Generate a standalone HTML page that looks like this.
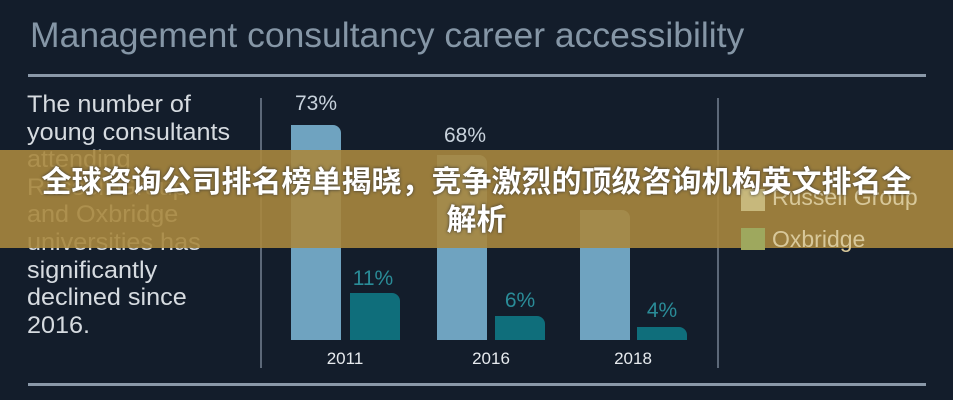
<!DOCTYPE html>
<html><head><meta charset="utf-8"><style>
body{margin:0;width:953px;height:400px;overflow:hidden;background:#131d2b;position:relative;font-family:"Liberation Sans",sans-serif}
.a{position:absolute}
.t{left:30px;top:15px;font-size:35.5px;color:#8596a6;font-weight:300;white-space:nowrap}
.hl{height:3px;background:#8a98a8;left:28px;width:898px}
.vl{width:2px;background:#5c6878;top:98px;height:270px}
.p{left:27px;top:91px;font-size:24px;line-height:27.6px;color:#d6dbe0;white-space:nowrap;transform:scaleX(1.05);transform-origin:left}
.lb{background:#6fa3c0;border-radius:0 8px 0 0}
.db{background:#0f6e7b;border-radius:0 8px 0 0}
.v{font-size:21px;color:#c8d2dc;transform:translateX(-50%)}
.dv{color:#2a8c98}
.y{font-size:17px;color:#e6eaee;transform:translateX(-50%);top:349px}
.ban{left:0;top:150px;width:953px;height:98px;background:rgba(168,135,62,0.9)}
.bt{left:0;width:953px;text-align:center;top:164px;font-family:"Liberation Sans","Noto Sans CJK SC",sans-serif;font-weight:bold;font-size:30px;line-height:38px;color:#fff;text-shadow:0 0 3px #333;white-space:nowrap}
.lg{font-size:23px;color:#d8c89a}
</style></head><body>
<div class="a t">Management consultancy career accessibility</div>
<div class="a hl" style="top:74px"></div>
<div class="a hl" style="top:383px"></div>
<div class="a vl" style="left:260px"></div>
<div class="a vl" style="left:717px"></div>
<div class="a p">The number of<br>young consultants<br>attending<br>Russell Group<br>and Oxbridge<br>universities has<br>significantly<br>declined since<br>2016.</div>
<div class="a lb" style="left:291px;top:125px;width:50px;height:215px"></div>
<div class="a db" style="left:350px;top:293px;width:50px;height:47px"></div>
<div class="a lb" style="left:437px;top:155px;width:50px;height:185px"></div>
<div class="a db" style="left:495px;top:316px;width:50px;height:24px"></div>
<div class="a lb" style="left:580px;top:210px;width:50px;height:130px"></div>
<div class="a db" style="left:637px;top:327px;width:50px;height:13px"></div>
<div class="a v" style="left:316px;top:92px">73%</div>
<div class="a v" style="left:465px;top:124px">68%</div>
<div class="a v dv" style="left:373px;top:267px">11%</div>
<div class="a v dv" style="left:520px;top:289px">6%</div>
<div class="a v dv" style="left:662px;top:299px">4%</div>
<div class="a y" style="left:345px">2011</div>
<div class="a y" style="left:491px">2016</div>
<div class="a y" style="left:633px">2018</div>
<div class="a ban"></div>
<div class="a" style="left:741px;top:189px;width:24px;height:22px;background:#c7b87c"></div>
<div class="a" style="left:741px;top:228px;width:24px;height:22px;background:#9ea85e"></div>
<div class="a lg" style="left:772px;top:184px">Russell Group</div>
<div class="a lg" style="left:772px;top:226px">Oxbridge</div>
<div class="a bt">全球咨询公司排名榜单揭晓，竞争激烈的顶级咨询机构英文排名全<br>解析</div>
</body></html>
